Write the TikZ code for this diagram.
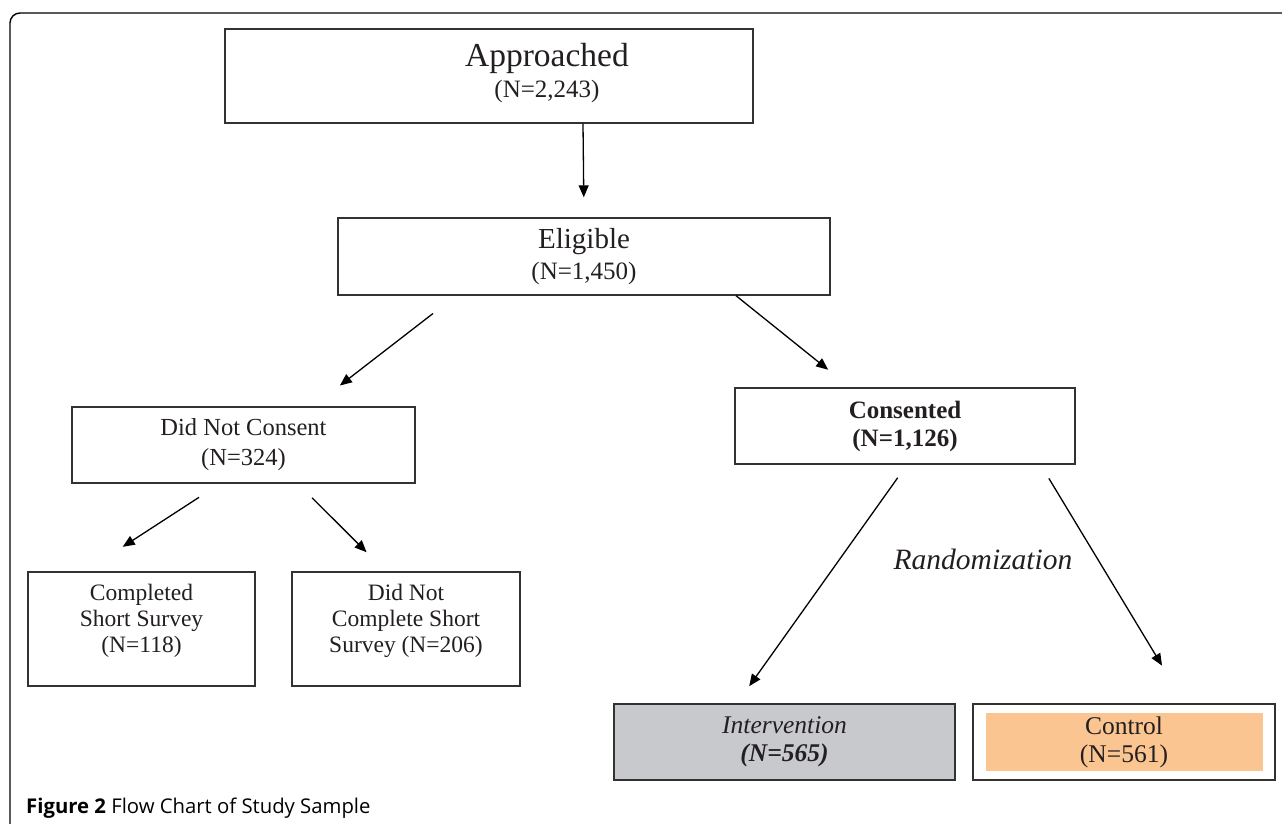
\documentclass[tikz,border=0pt]{standalone}
\usepackage{fontspec}
\setmainfont{Liberation Serif}
\setsansfont{Open Sans}
\usetikzlibrary{positioning, arrows.meta}
\definecolor{fcLine}{RGB}{50,50,50}
\definecolor{fcText}{RGB}{35,31,32}
\definecolor{fcGray}{RGB}{200,201,204}
\definecolor{fcOrange}{RGB}{251,197,145}
\newcommand{\fsz}[2]{\fontsize{#1}{#2}\selectfont}

\begin{document}
\begin{tikzpicture}[x=1pt, y=-1pt,
        box/.style={draw=fcLine, line width=1.4pt, fill=white, align=center, text=fcText, inner sep=0pt},
        txt/.style={align=center, text=fcText, inner sep=0pt},
        arr/.style={-{Triangle[length=12pt, width=10pt]}, line width=1.3pt, draw=black}
      ]
        \useasboundingbox (0,0) rectangle (1282,823);
        % frame of the figure
        \draw[line width=1.4pt, rounded corners=10pt] (10,830) -- (10,13) -- (1290,13);

        \node[box, minimum width=528, minimum height=94] (appr) at (489,76) {};
        \node[txt, font=\fsz{33.5}{31}] (apprtext) at ([xshift=58pt, yshift=3pt]appr.center)
          {Approached\\{\fsz{25}{31}(N=2,243)}};
        \node[box, minimum width=492, minimum height=77, font=\fsz{29}{31}] (elig) at (584,256.5)
          {Eligible\\{\fsz{25}{31}(N=1,450)}};
        \node[box, minimum width=343, minimum height=76, font=\fsz{24.5}{30}] (nocons) at (243.5,445)
          {Did Not Consent\\(N=324)};
        \node[box, minimum width=340, minimum height=76, font=\fsz{25}{28}\bfseries] (cons) at (905,426)
          {Consented\\(N=1,126)};
        \node[box, minimum width=227, minimum height=114] (short) at (141.5,629) {};
        \node[txt, font=\fsz{23.5}{26}] (shorttext) at ([yshift=8pt]short.center)
          {Completed\\Short Survey\\(N=118)};
        \node[box, minimum width=228, minimum height=114] (noshort) at (406,629) {};
        \node[txt, font=\fsz{23.5}{26}] (noshorttext) at ([yshift=8pt]noshort.center)
          {Did Not\\Complete Short\\Survey (N=206)};
        \node[box, fill=fcGray, minimum width=341, minimum height=76, font=\fsz{25.5}{28}] (interv) at (784.5,742)
          {\itshape Intervention\\\bfseries\itshape (N=565)};
        \node[box, minimum width=302, minimum height=76] (ctrl) at (1124,742) {};
        \node[txt, fill=fcOrange, minimum width=277, minimum height=58, font=\fsz{25.5}{28}] (ctrltext) at (ctrl)
          {Control\\(N=561)};

        \node[font=\fsz{29.5}{30}\itshape, text=fcText] (rand) at (983,559) {Randomization};
        \node[font=\sffamily\fsz{20.3}{22}, anchor=base west, inner sep=0pt, text=black] (caption) at (26,813)
          {\bfseries Figure 2 \mdseries Flow Chart of Study Sample};

        \draw[arr, shorten >=20pt] ([xshift=94pt]appr.south) -- (elig.north);
        \draw[arr, shorten <=29pt, shorten >=34pt] ([xshift=-128pt]elig.south) -- ([xshift=69.5pt]nocons.north);
        \draw[arr, shorten >=28pt] ([xshift=152pt]elig.south) -- ([xshift=-55pt]cons.north);
        \draw[arr, shorten <=25pt, shorten >=45pt] ([xshift=-23.5pt]nocons.south) -- ([xshift=-56.5pt]short.north);
        \draw[arr, shorten <=20pt, shorten >=27pt] ([xshift=54.5pt]nocons.south) -- ([xshift=-20.3pt]noshort.north);
        \draw[arr, shorten <=16pt, shorten >=21pt] ([xshift=2pt]cons.south) -- ([xshift=-47.5pt]interv.north);
        \draw[arr, shorten <=16pt, shorten >=44pt] ([xshift=135.6pt]cons.south) -- ([xshift=60.8pt]ctrl.north);
      \end{tikzpicture}
\end{document}
